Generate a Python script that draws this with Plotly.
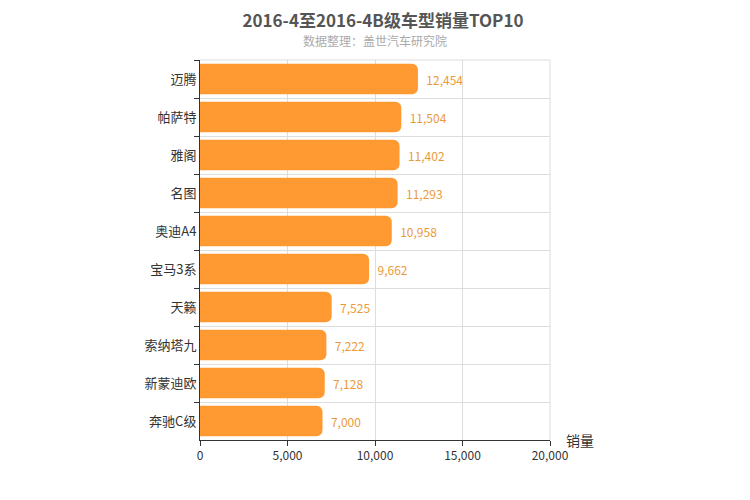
import plotly.graph_objects as go

models = ["迈腾", "帕萨特", "雅阁", "名图", "奥迪A4", "宝马3系", "天籁", "索纳塔九", "新蒙迪欧", "奔驰C级"]
sales = [12454, 11504, 11402, 11293, 10958, 9662, 7525, 7222, 7128, 7000]
x_ticks = [0, 5000, 10000, 15000, 20000]

fig = go.Figure(go.Bar(
    x=sales, y=models, orientation="h",
    marker=dict(color="#ff9a33", line=dict(width=0)),
    width=0.8,
    text=[f"  {v:,}" for v in sales], textposition="outside",
    textfont=dict(color="#eb9a3a", size=12, family="Noto Sans CJK SC"),
    cliponaxis=False,
))
fig.update_layout(
    width=750, height=500, plot_bgcolor="white", paper_bgcolor="white",
    margin=dict(l=192, r=208, t=52, b=68, autoexpand=False),
    barcornerradius=6,
    showlegend=False,
    font=dict(family="Noto Sans CJK SC", color="#333"),
    title=dict(text="<b>2016-4至2016-4B级车型销量TOP10</b>", x=0.5, xanchor="center",
               yref="container", y=0.985, yanchor="top", pad=dict(t=0),
               font=dict(size=17, color="#555")),
    annotations=[
        dict(text="数据整理：盖世汽车研究院", x=0.5, xref="paper", y=1.05, yref="paper", showarrow=False,
             yanchor="middle", font=dict(size=12, color="#aaa")),
        dict(text="销量", x=1.0, xref="paper", xanchor="left", xshift=14, y=0, yref="paper", yanchor="middle",
             showarrow=False, font=dict(size=14, color="#333")),
    ],
)
fig.update_xaxes(range=[0, 20000], tickvals=x_ticks, tickformat=",", showgrid=True, gridcolor="#ddd",
                 showline=True, linecolor="#333", ticks="outside", ticklen=5, tickcolor="#333",
                 tickfont=dict(size=12, color="#333"), zeroline=False, automargin=False)
fig.update_yaxes(autorange="reversed", showgrid=True, gridcolor="#ddd", showline=True, linecolor="#333",
                 ticks="outside", ticklen=5, tickcolor="#333", tickfont=dict(size=13, color="#333"),
                 tickson="boundaries", automargin=False)
fig.add_shape(type="line", xref="paper", yref="paper", x0=1, x1=1, y0=0, y1=1, line=dict(color="#ddd", width=1))
fig.add_shape(type="line", xref="paper", yref="paper", x0=0, x1=1, y0=1, y1=1, line=dict(color="#ddd", width=1))
fig.write_html("out.html")
